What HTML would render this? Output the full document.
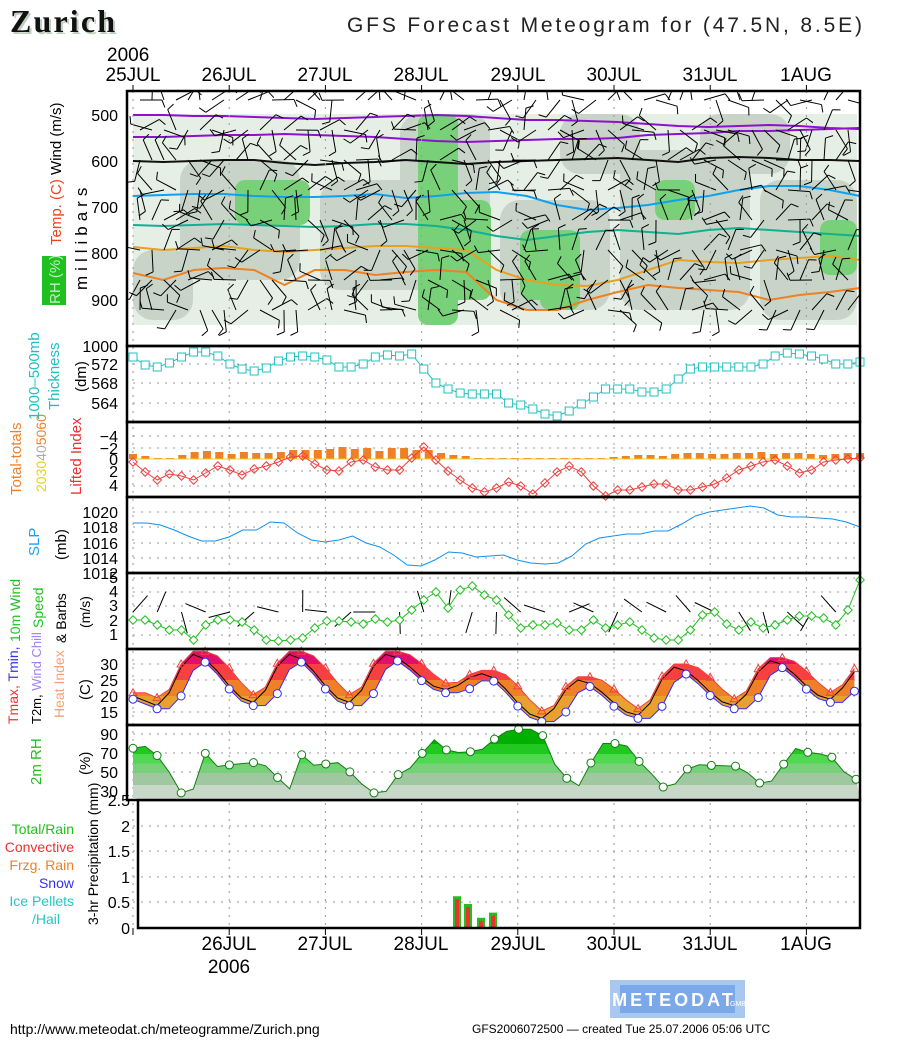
<!DOCTYPE html>
<html><head><meta charset="utf-8"><style>
body{margin:0;background:#fff;}
svg{display:block;font-family:"Liberation Sans",sans-serif;}
</style></head><body>
<svg id="s" width="900" height="1050" viewBox="0 0 900 1050" xmlns="http://www.w3.org/2000/svg">
<defs>
<clipPath id="c1"><rect x="128" y="92" width="731" height="253"/></clipPath>
<clipPath id="c2"><rect x="128" y="574" width="731" height="74"/></clipPath>
<linearGradient id="tg" gradientUnits="userSpaceOnUse" x1="0" y1="649" x2="0" y2="725">
<stop offset="0" stop-color="#e0106a"/><stop offset="0.2" stop-color="#e0106a"/>
<stop offset="0.2" stop-color="#f84040"/><stop offset="0.41" stop-color="#f84040"/>
<stop offset="0.41" stop-color="#f08028"/><stop offset="0.62" stop-color="#f08028"/>
<stop offset="0.62" stop-color="#e8a030"/><stop offset="1" stop-color="#e8a030"/>
</linearGradient>
<linearGradient id="rg" gradientUnits="userSpaceOnUse" x1="0" y1="725" x2="0" y2="798">
<stop offset="0" stop-color="#00b000"/><stop offset="0.26" stop-color="#00b000"/>
<stop offset="0.26" stop-color="#20c820"/><stop offset="0.4" stop-color="#20c820"/>
<stop offset="0.4" stop-color="#50d850"/><stop offset="0.53" stop-color="#50d850"/>
<stop offset="0.53" stop-color="#78d078"/><stop offset="0.66" stop-color="#78d078"/>
<stop offset="0.66" stop-color="#a0c8a0"/><stop offset="0.82" stop-color="#a0c8a0"/>
<stop offset="0.82" stop-color="#c8d8c8"/><stop offset="1" stop-color="#c8d8c8"/>
</linearGradient>
</defs>
<g id="g"></g>
<text x="12" y="34" font-family="Liberation Serif,serif" font-weight="bold" font-size="32" fill="#c0d0c0" textLength="105">Zurich</text>
<text x="10" y="32" font-family="Liberation Serif,serif" font-weight="bold" font-size="32" fill="#111" textLength="105">Zurich</text>
<text x="347" y="32" font-size="21" fill="#222" textLength="515">GFS Forecast Meteogram for (47.5N, 8.5E)</text>
<text x="107" y="61" font-size="19" fill="#000">2006</text>
<g font-size="19" fill="#000" text-anchor="middle">
<text x="133" y="81">25JUL</text><text x="229" y="81">26JUL</text><text x="325" y="81">27JUL</text><text x="421" y="81">28JUL</text><text x="518" y="81">29JUL</text><text x="614" y="81">30JUL</text><text x="710" y="81">31JUL</text><text x="806" y="81">1AUG</text>
<text x="229" y="950">26JUL</text><text x="325" y="950">27JUL</text><text x="421" y="950">28JUL</text><text x="518" y="950">29JUL</text><text x="614" y="950">30JUL</text><text x="710" y="950">31JUL</text><text x="806" y="950">1AUG</text>
<text x="229" y="973">2006</text>
</g>
<g font-size="16" fill="#000" text-anchor="end">
<text x="118" y="121">500</text><text x="118" y="167">600</text><text x="118" y="213">700</text><text x="118" y="259">800</text><text x="118" y="306">900</text><text x="118" y="352">1000</text>
<text x="118" y="370">572</text><text x="118" y="389">568</text><text x="118" y="409">564</text>
<text x="118" y="442">−4</text><text x="118" y="454">−2</text><text x="118" y="465">0</text><text x="118" y="477">2</text><text x="118" y="491">4</text>
<text x="118" y="518">1020</text><text x="118" y="533">1018</text><text x="118" y="549">1016</text><text x="118" y="564">1014</text><text x="118" y="579">1012</text>
<text x="118" y="583">5</text><text x="118" y="597">4</text><text x="118" y="611">3</text><text x="118" y="626">2</text><text x="118" y="640">1</text>
<text x="118" y="670">30</text><text x="118" y="686">25</text><text x="118" y="702">20</text><text x="118" y="718">15</text>
<text x="118" y="740">90</text><text x="118" y="759">70</text><text x="118" y="778">50</text><text x="118" y="797">30</text>
<text x="130" y="806">2.5</text><text x="130" y="832">2</text><text x="130" y="857">1.5</text><text x="130" y="883">1</text><text x="130" y="908">0.5</text><text x="130" y="934">0</text>
</g>
<g font-size="14" text-anchor="end">
<text x="74" y="834" fill="#20c020">Total/Rain</text>
<text x="74" y="852" fill="#f03030">Convective</text>
<text x="74" y="870" fill="#f08028">Frzg. Rain</text>
<text x="74" y="888" fill="#3030f0">Snow</text>
<text x="74" y="906" fill="#20c8c8">Ice Pellets</text>
<text x="60" y="924" fill="#20c8c8">/Hail</text>
</g>
<g font-size="15">
<text transform="translate(61,245) rotate(-90)" fill="#000"><tspan fill="#f04020">Temp.</tspan> <tspan fill="#f04020">(C)</tspan> Wind (m/s)</text>
<rect x="42" y="256" width="24" height="49" fill="#20c020"/>
<text transform="translate(60,304) rotate(-90)" fill="#c0f0c0">RH (%)</text>
<text transform="translate(87,290) rotate(-90)" fill="#000" font-size="17" letter-spacing="5">millibars</text>
<text transform="translate(39,420) rotate(-90)" fill="#20c0c0">1000–500mb</text>
<text transform="translate(59,410) rotate(-90)" fill="#20c0c0">Thickness</text>
<text transform="translate(86,392) rotate(-90)" fill="#000">(dm)</text>
<text transform="translate(21,495) rotate(-90)" fill="#f08028">Total-totals</text>
<text transform="translate(46,492) rotate(-90)" font-size="14"><tspan fill="#e8d020">20</tspan><tspan fill="#e8d020">30</tspan><tspan fill="#aaa">40</tspan><tspan fill="#f08028">50</tspan><tspan fill="#f08028">60</tspan></text>
<text transform="translate(81,495) rotate(-90)" fill="#f03030">Lifted Index</text>
<text transform="translate(39,556) rotate(-90)" fill="#20a0f0">SLP</text>
<text transform="translate(66,560) rotate(-90)" fill="#000">(mb)</text>
<text transform="translate(20,642) rotate(-90)" fill="#20c020" font-size="14">10m Wind</text>
<text transform="translate(43,628) rotate(-90)" fill="#20c020" font-size="14">Speed</text>
<text transform="translate(66,643) rotate(-90)" fill="#000" font-size="14">&amp; Barbs</text>
<text transform="translate(90,628) rotate(-90)" fill="#000" font-size="14">(m/s)</text>
<text transform="translate(18,724) rotate(-90)" font-size="14"><tspan fill="#f03030">Tmax,</tspan> <tspan fill="#3030f0">Tmin,</tspan></text>
<text transform="translate(41,724) rotate(-90)" font-size="13"><tspan fill="#000">T2m,</tspan> <tspan fill="#a080f0">Wind Chill</tspan></text>
<text transform="translate(64,718) rotate(-90)" fill="#f8a070" font-size="14">Heat Index</text>
<text transform="translate(90,700) rotate(-90)" fill="#000">(C)</text>
<text transform="translate(41,785) rotate(-90)" fill="#20c020">2m RH</text>
<text transform="translate(90,775) rotate(-90)" fill="#000">(%)</text>
<text transform="translate(98,925) rotate(-90)" fill="#000" font-size="14">3-hr Precipitation (mm)</text>
</g>
<text x="10" y="1034" font-size="14" fill="#000">http://www.meteodat.ch/meteogramme/Zurich.png</text>
<text x="472" y="1033" font-size="12" fill="#000">GFS2006072500 — created Tue 25.07.2006 05:06 UTC</text>
<rect x="610" y="980" width="135" height="38" fill="#a8c8f0"/>
<rect x="620" y="985" width="115" height="28" fill="#7aa8e8"/>
<text x="674" y="1006" font-size="18" font-weight="bold" fill="#fff" text-anchor="middle" letter-spacing="3">METEODAT</text>
<text x="730" y="1006" font-size="7" fill="#fff">GMBH</text>
</svg>
<script>
const NS="http://www.w3.org/2000/svg",G0=document.getElementById('g');
let G=G0;
function el(n,a){const e=document.createElementNS(NS,n);for(const k in a)e.setAttribute(k,a[k]);G.appendChild(e);return e;}
const X0=133,XE=860;
function X(t){return 133+4.008*t;}
function xs(arr){const n=arr.length;return arr.map((y,i)=>[X0+(XE-X0)*i/(n-1),y]);}
function pts(p){return p.map(q=>q[0].toFixed(1)+','+q[1].toFixed(1)).join(' ');}
let seed=7;function rnd(){seed=(seed*16807)%2147483647;return seed/2147483647;}
function interp(nodes,t){for(let i=0;i<nodes.length-1;i++){const a=nodes[i],b=nodes[i+1];if(t>=a[0]&&t<=b[0]){const f=(t-a[0])/(b[0]-a[0]);const g=(1-Math.cos(Math.PI*f))/2;return a[1]+(b[1]-a[1])*g;}}return nodes[nodes.length-1][1];}
function lin(nodes,t){for(let i=0;i<nodes.length-1;i++){const a=nodes[i],b=nodes[i+1];if(t>=a[0]&&t<=b[0]){return a[1]+(b[1]-a[1])*(t-a[0])/(b[0]-a[0]);}}return nodes[nodes.length-1][1];}
G=el('g',{'clip-path':'url(#c1)'});
el('rect',{x:133,y:114,width:724,height:211,fill:'#e6efe6'});
const gray=[[180,160,120,120],[320,180,140,110],[400,114,90,150],[500,200,110,110],[620,150,130,160],[760,180,97,140],[133,250,60,70],[560,114,80,60],[700,114,90,60]];
gray.forEach(r=>el('rect',{x:r[0],y:r[1],width:r[2],height:r[3],fill:'#c8d4c8',rx:20}));
const green=[[235,180,75,45],[418,114,40,211],[436,200,55,100],[520,230,60,70],[655,180,40,40],[820,220,37,55],[540,250,40,60]];
green.forEach(r=>el('rect',{x:r[0],y:r[1],width:r[2],height:r[3],fill:'#78d078',rx:10}));
function cont(ys,col,w){el('polyline',{points:pts(xs(ys)),fill:'none',stroke:col,'stroke-width':w||2});}
cont([137,137,136,135,135,134,135,136,137,139,141,142,141,140,139,139,138,135,134,133,131,131,130,129,128],'#9010d0');
cont([115,115,116,116,117,118,119,118,117,116,115,116,118,120,120,121,122,124,126,127,126,125,126,128,129],'#9010d0');
cont([161,162,161,160,160,163,165,163,162,160,162,164,162,161,160,159,158,160,162,158,157,158,160,160,161],'#111');
cont([196,195,194,194,196,197,197,196,194,198,196,193,192,196,205,210,208,205,200,196,190,186,186,190,196],'#10a0f0');
cont([225,226,225,224,225,226,227,226,224,224,226,230,236,240,236,232,230,232,234,230,228,230,232,234,236],'#10b090');
cont([247,250,248,246,250,252,250,248,246,246,248,250,270,280,285,286,280,270,260,262,263,260,258,256,260],'#e8a020');
cont([273,280,270,268,270,285,270,270,275,272,270,272,300,310,310,300,292,285,288,290,292,300,295,292,288],'#f08020');
for(let x=140;x<860;x+=12){for(let y=100;y<340;y+=30){const a=rnd()*Math.PI*2,L=22;const x2=x+Math.cos(a)*L,y2=y+Math.sin(a)*L;el('line',{x1:x,y1:y,x2:x2,y2:y2,stroke:'#000','stroke-width':1});const b=a+1.2;el('line',{x1:x2,y1:y2,x2:x2+Math.cos(b)*8,y2:y2+Math.sin(b)*8,stroke:'#000','stroke-width':1});}}
G=G0;
for(let d=0;d<8;d++){const x=X0+96.2*d;el('line',{x1:x,y1:91,x2:x,y2:928,stroke:'#999','stroke-dasharray':'2,6'});}
[[364,383,403],[436,448,471,486],[512,527,543,558],[578,592,606,621,635],[664,680,696,712],[734,753,772,791],[826,851,877,902]].forEach(a=>a.forEach(y=>el('line',{x1:133,y1:y,x2:860,y2:y,stroke:'#999','stroke-dasharray':'2,6'})));
const th=xs([357,365,367,363,357,352,352,356,364,369,371,368,361,357,356,357,360,367,367,364,357,355,356,354,369,383,389,393,394,394,394,403,405,409,414,416,411,404,397,389,389,389,392,392,389,379,369,367,367,367,367,367,364,356,353,354,356,359,364,364,362]);
el('polyline',{points:pts(th),fill:'none',stroke:'#20c0c0','stroke-width':1});
th.forEach(p=>el('rect',{x:p[0]-4,y:p[1]-4,width:8,height:8,fill:'#fff',stroke:'#20c0c0','stroke-width':1}));
const bars=[5,3,1,1,4,7,8,7,5,7,6,6,7,9,9,9,10,12,10,11,8,11,11,9,9,6,4,3,1,1,1,1,1,1,1,1,1,1,1,2,3,4,4,3,5,6,6,5,5,6,6,7,5,6,6,5,4,5,6,6];
bars.forEach((h,i)=>{const x=X0+(XE-X0)*i/(bars.length-1);el('rect',{x:x-4,y:459-h,width:8,height:h,fill:'#f08028'});});
el('line',{x1:133,y1:459,x2:860,y2:459,stroke:'#e8d020'});
const li=xs([462,472,480,474,476,480,473,466,470,475,469,466,462,457,456,464,470,471,462,460,467,470,470,458,447,460,471,480,488,492,488,482,486,494,483,472,466,472,486,496,490,490,487,484,484,490,490,487,484,478,470,466,462,460,466,473,470,462,460,459,458]);
el('polyline',{points:pts(li),fill:'none',stroke:'#f04040','stroke-width':1});
li.forEach(p=>el('rect',{x:p[0]-3,y:p[1]-3,width:6,height:6,fill:'none',stroke:'#f04040',transform:`rotate(45 ${p[0]} ${p[1]})`}));
el('polyline',{points:pts(xs([523,523,525,530,536,541,541,537,530,530,522,523,533,540,542,540,536,543,547,555,565,566,560,552,553,557,556,555,560,563,564,563,556,544,538,536,534,534,531,531,524,516,512,510,508,506,508,515,517,517,518,519,522,527])),fill:'none',stroke:'#1090f0','stroke-width':1});
const wd=xs([620,620,625,630,630,640,625,620,620,622,630,640,641,640,638,628,621,621,622,624,619,622,620,610,600,592,608,590,586,595,600,615,628,625,625,623,630,630,620,628,625,622,630,638,640,640,630,615,612,624,630,622,628,625,620,616,616,618,625,610,580]);
G=el('g',{'clip-path':'url(#c2)'});
for(let i=0;i<wd.length;i+=2){const x=wd[i][0],a=rnd()*Math.PI*2;el('line',{x1:x,y1:612,x2:x+Math.cos(a)*22,y2:612+Math.sin(a)*22,stroke:'#000'});}
G=G0;
el('polyline',{points:pts(wd),fill:'none',stroke:'#20c020','stroke-width':1});
wd.forEach(p=>el('rect',{x:p[0]-3,y:p[1]-3,width:6,height:6,fill:'#fff',stroke:'#20c020',transform:`rotate(45 ${p[0]} ${p[1]})`}));
const TN=[[0,20],[6,17],[15,33],[30,18],[39,33],[54,18],[63,33],[78,22],[87,27],[102,13],[111,25],[126,14],[135,29],[150,17],[159,31],[174,19],[181,28]];
const TY=v=>712-(v-15)*3.2;
const T2=[],MX=[],MN=[];
for(let t=0;t<=181;t+=3){const v=interp(TN,t),vp=interp(TN,Math.max(0,t-3));T2.push([X(t),TY(v)]);MX.push([X(t),TY(Math.max(v,vp)+1)]);MN.push([X(t),TY(Math.min(v,vp)-1)]);}
el('polygon',{points:pts(MX.concat(MN.slice().reverse())),fill:'url(#tg)'});
el('polyline',{points:pts(T2),fill:'none',stroke:'#000'});
el('polyline',{points:pts(MX),fill:'none',stroke:'#f04040'});
el('polyline',{points:pts(MN),fill:'none',stroke:'#3030f0'});
MX.forEach((p,i)=>{if(i%2==0)el('polygon',{points:`${p[0]},${p[1]-4} ${p[0]-4},${p[1]+3} ${p[0]+4},${p[1]+3}`,fill:'none',stroke:'#f04040'});});
MN.forEach((p,i)=>{if(i%2==0)el('circle',{cx:p[0],cy:p[1],r:4,fill:'#fff',stroke:'#3030f0'});});
const RN=[[133,75],[145,77],[160,65],[172,45],[180,28],[192,28],[205,70],[218,55],[232,58],[255,60],[270,55],[282,38],[290,32],[300,70],[312,57],[340,60],[355,45],[370,28],[385,28],[400,50],[412,55],[433,85],[450,70],[480,72],[495,85],[510,95],[540,95],[556,55],[570,40],[580,35],[600,80],[625,80],[640,60],[650,50],[665,32],[680,40],[690,58],[710,57],[740,56],[760,38],[770,38],[795,75],[810,70],[830,68],[848,45],[857,42]];
const RY=v=>734+(90-v)*0.95;
const rh=[];for(let x=133;x<=857;x+=12.05){rh.push([x,RY(lin(RN,x))]);}
el('polygon',{points:pts([[133,798]].concat(rh,[[860,798]])),fill:'url(#rg)'});
el('polyline',{points:pts(rh),fill:'none',stroke:'#108010'});
rh.forEach((p,i)=>{if(i%2==0)el('circle',{cx:p[0],cy:p[1],r:4,fill:'#fff',stroke:'#108010'});});
[[457,0.62],[468,0.47],[481,0.2],[493,0.3]].forEach(b=>{const h=b[1]*51.2;el('rect',{x:b[0]-4,y:928-h,width:8,height:h,fill:'#20c020'});el('rect',{x:b[0]-2,y:928-h+3,width:4,height:h-3,fill:'#f03030'});});
[[127,91,860,346],[127,346,860,422],[127,422,860,497],[127,497,860,573],[127,573,860,649],[127,649,860,725],[127,725,860,800],[138,800,860,928]].forEach(f=>el('rect',{x:f[0],y:f[1],width:f[2]-f[0],height:f[3]-f[1],fill:'none',stroke:'#000','stroke-width':2.5}));
for(let d=0;d<8;d++){const x=X0+96.2*d;el('line',{x1:x,y1:85,x2:x,y2:91,stroke:'#000'});el('line',{x1:x,y1:928,x2:x,y2:935,stroke:'#000'});}
</script>
</body></html>
